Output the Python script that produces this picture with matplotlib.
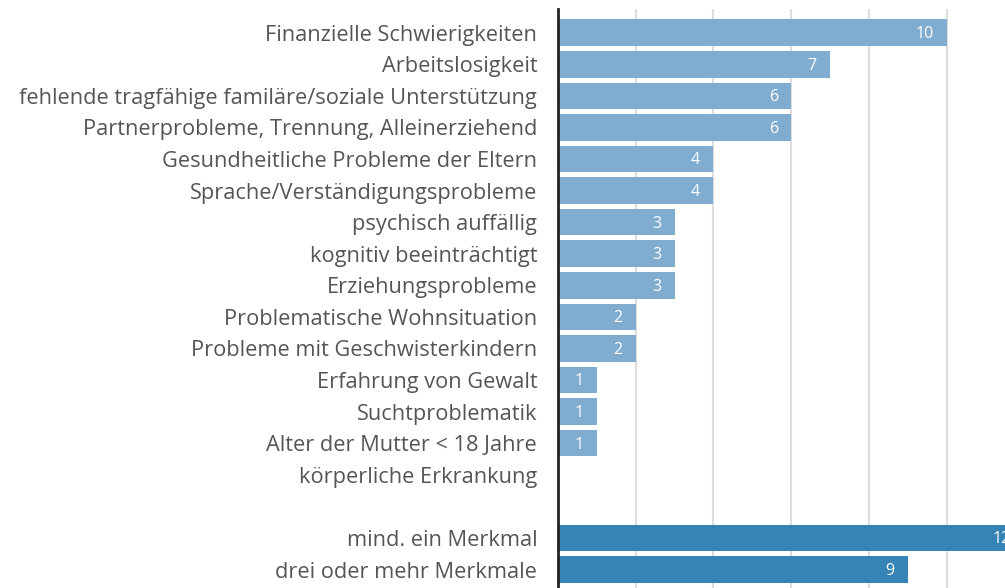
import numpy as np
import matplotlib
matplotlib.use("Agg")
import matplotlib.pyplot as plt

# categories top to bottom; "" is the blank spacer row
labels = [
    "Finanzielle Schwierigkeiten",
    "Arbeitslosigkeit",
    "fehlende tragfähige familäre/soziale Unterstützung",
    "Partnerprobleme, Trennung, Alleinerziehend",
    "Gesundheitliche Probleme der Eltern",
    "Sprache/Verständigungsprobleme",
    "psychisch auffällig",
    "kognitiv beeinträchtigt",
    "Erziehungsprobleme",
    "Problematische Wohnsituation",
    "Probleme mit Geschwisterkindern",
    "Erfahrung von Gewalt",
    "Suchtproblematik",
    "Alter der Mutter < 18 Jahre",
    "körperliche Erkrankung",
    "",
    "mind. ein Merkmal",
    "drei oder mehr Merkmale",
]
values = [10, 7, 6, 6, 4, 4, 3, 3, 3, 2, 2, 1, 1, 1, 0, 0, 12, 9]
summary = [False] * 16 + [True, True]

light = "#80acd0"
dark = "#3584b5"
text_col = "#555555"

plt.rcParams['font.family'] = ['Open Sans', 'DejaVu Sans']

fig = plt.figure(figsize=(10.05, 5.88), dpi=100)
ax = fig.add_axes([558 / 1005, 0, 1 - 558 / 1005, 1 - 9 / 588])

y = np.arange(len(labels))
colors = [dark if s else light for s in summary]
ax.barh(y, values, height=0.84, color=colors, zorder=3)

for yi, v in zip(y, values):
    if v > 0:
        ax.annotate(str(v), xy=(v, yi), xytext=(-9.5, -1), textcoords="offset points",
                    ha="right", va="center", color="white", fontsize=11.5,
                    annotation_clip=False, zorder=4)

ax.set_xticks([2, 4, 6, 8, 10, 12])
ax.set_xlim(0, (1005 - 558) / 38.85)
ax.set_ylim(17.585, -0.75)
ax.xaxis.grid(True, color="#dddddd", linewidth=1.5, zorder=0)
ax.tick_params(axis="x", length=0, labelbottom=False)

ax.set_yticks(y)
ax.set_yticklabels(labels, fontsize=15.7, color=text_col)
ax.tick_params(axis="y", length=0, pad=15)

for side in ["top", "right", "bottom"]:
    ax.spines[side].set_visible(False)
ax.spines["left"].set_color("#222222")
ax.spines["left"].set_linewidth(2)
ax.spines["left"].set_zorder(5)

fig.savefig("out.png", dpi=100)
